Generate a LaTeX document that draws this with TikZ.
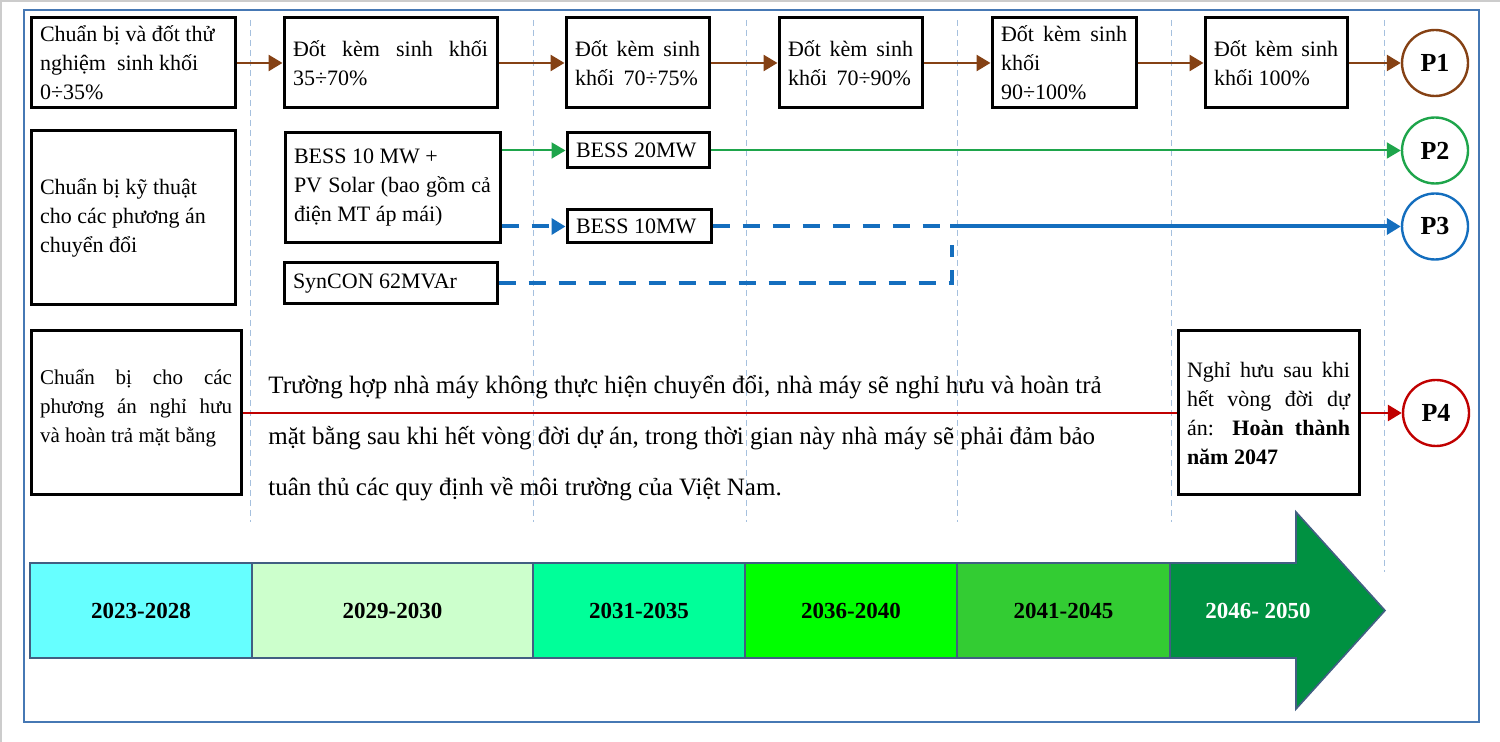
\documentclass[tikz,border=0pt]{standalone}
\usepackage{fontspec}
\setmainfont{Liberation Serif}
\usetikzlibrary{arrows.meta}
\setlength{\parindent}{0pt}
\definecolor{cornice}{RGB}{70,120,180}
\definecolor{guida}{RGB}{165,192,222}
\definecolor{marrone}{RGB}{133,65,20}
\definecolor{verde}{RGB}{30,165,75}
\definecolor{blu}{RGB}{20,110,190}
\definecolor{rosso}{RGB}{192,0,0}
\definecolor{bordo}{RGB}{65,95,130}
\definecolor{anno1}{RGB}{102,255,255}
\definecolor{anno2}{RGB}{204,255,204}
\definecolor{anno3}{RGB}{0,255,153}
\definecolor{anno4}{RGB}{0,255,0}
\definecolor{anno5}{RGB}{51,204,51}
\definecolor{anno6}{RGB}{0,145,65}
\newcommand{\spazi}{\spaceskip=0pt\xspaceskip=0pt\relax}
\newcommand{\riga}[1]{{\spazi\makebox[\hsize][s]{#1}}}
\begin{document}
\begin{tikzpicture}[x=0.5pt,y=-0.5pt,
  testo/.style={font=\fontsize{11}{14.5}\selectfont},
  box/.style={draw,line width=1.5pt,rectangle,align=left,inner xsep=4.5pt,inner ysep=1pt,testo,execute at begin node=\spazi},
  fase/.style={draw,circle,line width=1.2pt,minimum size=33pt,inner sep=0pt,font=\fontsize{13}{13}\selectfont\bfseries},
  anno/.style={draw=bordo,line width=0.8pt,minimum height=47.5pt,inner sep=0pt,font=\fontsize{11.5}{12}\selectfont\bfseries},
  freccia/.style={-{Triangle[length=7pt,width=8pt]}}]
  \useasboundingbox (0,0) rectangle (1500,742);
  %cornice
  \draw[gray!40,line width=0.8pt] (1,742) -- (1,1) -- (1500,1);
  \draw[cornice,line width=1.2pt] (24,10) rectangle (1479,722);
  %linee guida
  \foreach \x in {250,533,746,957,1171}
    \draw[guida,line width=0.5pt,dash pattern=on 3pt off 2pt] (\x,20) -- (\x,522);
  \draw[guida,line width=0.5pt,dash pattern=on 3pt off 2pt] (1384,20) -- (1384,572);
  %riquadri riga 1
  \node[box,text width=93pt,minimum height=45pt] (b1) at (133,63) {Chuẩn bị và đốt thử\\nghiệm\ \ sinh khối\\0÷35\%};
  \node[box,text width=97.5pt,minimum height=45pt] (b2) at (390.5,63) {\riga{Đốt kèm sinh khối}\\35÷70\%};
  \node[box,text width=62.5pt,minimum height=45pt] (b3) at (637.5,63) {\riga{Đốt kèm sinh}\\khối\hspace{2pt} 70÷75\%};
  \node[box,text width=62.5pt,minimum height=45pt] (b4) at (850.5,63) {\riga{Đốt kèm sinh}\\khối\hspace{2pt} 70÷90\%};
  \node[box,text width=63pt,minimum height=45pt] (b5) at (1064,63) {\riga{Đốt kèm sinh}\\khối\\90÷100\%};
  \node[box,text width=62pt,minimum height=45pt] (b6) at (1276,63) {\riga{Đốt kèm sinh}\\khối 100\%};
  %riquadri riga 2
  \node[box,text width=93pt,minimum height=87pt] (l2) at (133,218) {Chuẩn bị kỹ thuật\\cho các phương án\\chuyển đổi};
  \node[box,text width=98.5pt,minimum height=55pt] (pv) at (392.5,188) {BESS 10 MW +\\\riga{PV Solar (bao gồm cả}\\điện MT áp mái)};
  \node[box,text width=97.5pt,minimum height=20.5pt] (syn) at (390.5,283.5) {SynCON 62MVAr};
  \node[box,text width=62pt,minimum height=17.5pt] (b20) at (638,150.5) {BESS 20MW};
  \node[box,text width=63pt,minimum height=16.5pt] (b10) at (639,226.5) {BESS 10MW};
  %riquadri riga 3
  \node[box,text width=96pt,minimum height=82pt,font=\fontsize{10.5}{14.5}\selectfont] (l3) at (136,413) {\riga{Chuẩn bị cho các}\\\riga{phương án nghỉ hưu}\\và hoàn trả mặt bằng\\[-7pt]\mbox{}};
  \node[box,text width=81.5pt,minimum height=82pt] (nh) at (1268.5,413) {\riga{Nghỉ hưu sau khi}\\\riga{hết vòng đời dự}\\\riga{án: \textbf{Hoàn thành}}\\\textbf{năm 2047}};
  \node[align=left,anchor=west,inner sep=0pt,font=\fontsize{12.5}{25.5}\selectfont,execute at begin node=\spazi] (par) at (268,438)
    {Trường hợp nhà máy không thực hiện chuyển đổi, nhà máy sẽ nghỉ hưu và hoàn trả\\mặt bằng sau khi hết vòng đời dự án, trong thời gian này nhà máy sẽ phải đảm bảo\\tuân thủ các quy định về môi trường của Việt Nam.};
  %fasi
  \node[fase,marrone] (p1) at (1435,63) {\textcolor{black}{P1}};
  \node[fase,verde] (p2) at (1435,150.5) {\textcolor{black}{P2}};
  \node[fase,blu] (p3) at (1435,226.5) {\textcolor{black}{P3}};
  \node[fase,rosso] (p4) at (1436,413) {\textcolor{black}{P4}};
  %frecce
  \foreach \a/\b in {b1/b2,b2/b3,b3/b4,b4/b5,b5/b6,b6/p1}
    \draw[freccia,marrone,line width=1.3pt] (\a) -- (\b);
  \draw[freccia,verde,line width=1pt] (pv.east |- b20) -- (b20);
  \draw[freccia,verde,line width=1pt] (b20) -- (p2);
  \coordinate (cambio) at (950,226.5);
  \coordinate (synsu) at (952,245);
  \draw[freccia,blu,line width=2pt,dash pattern=on 8.5pt off 6.5pt] (pv.east |- b10) -- (b10);
  \draw[blu,line width=2pt,dash pattern=on 8.5pt off 6.5pt] (b10) -- (cambio);
  \draw[freccia,blu,line width=2pt] (cambio) -- (p3);
  \draw[blu,line width=2pt,dash pattern=on 8.5pt off 6.5pt] (syn.east) -| (synsu);
  \draw[rosso,line width=1.4pt] (l3) -- (nh);
  \draw[freccia,rosso,line width=1.4pt] (nh) -- (p4);
  %linea del tempo
  \draw[draw=bordo,line width=0.8pt,fill=anno6] (1170,563) -- (1296,563) -- (1296,512) -- (1385,610.5) -- (1296,709) -- (1296,658) -- (1170,658) -- cycle;
  \node[anno,fill=anno1,minimum width=111pt] (a1) at (141,610.5) {2023-2028};
  \node[anno,fill=anno2,minimum width=140.5pt] (a2) at (392.5,610.5) {2029-2030};
  \node[anno,fill=anno3,minimum width=106pt] (a3) at (639,610.5) {2031-2035};
  \node[anno,fill=anno4,minimum width=106pt] (a4) at (851,610.5) {2036-2040};
  \node[anno,fill=anno5,minimum width=106.5pt] (a5) at (1063.5,610.5) {2041-2045};
  \node[font=\fontsize{11.5}{12}\selectfont\bfseries,text=white] (a6) at (1258,610.5) {2046- 2050};
\end{tikzpicture}
\end{document}
